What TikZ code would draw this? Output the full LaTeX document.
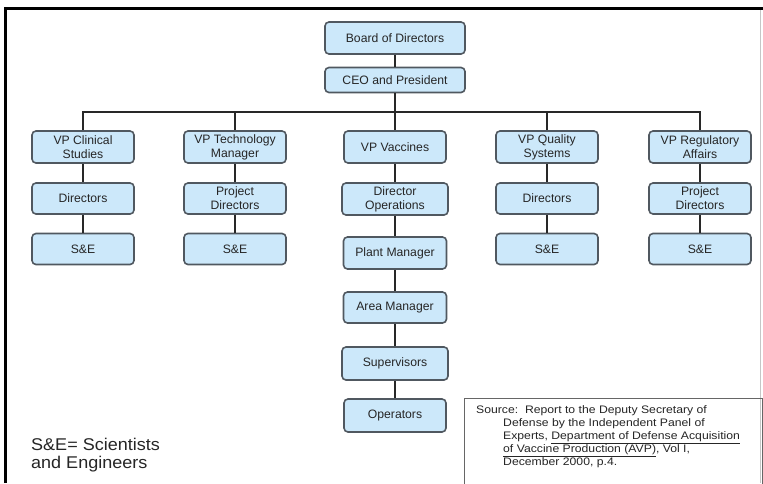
\documentclass[tikz,border=0pt]{standalone}
\usepackage{fontspec}
\setmainfont{Liberation Sans}
\newfontfamily\srcfont[FakeStretch=1.12]{Liberation Sans}
\newfontfamily\legfont[FakeStretch=1.06]{Liberation Sans}
\definecolor{boxfill}{RGB}{204,232,250}
\definecolor{boxline}{RGB}{80,88,96}
\definecolor{linec}{RGB}{40,40,40}
\begin{document}
\begin{tikzpicture}[x=1pt,y=-1pt,
  box/.style={draw=boxline, line width=1.6pt, fill=boxfill, rounded corners=4pt,
    minimum width=102pt, minimum height=32pt, inner sep=1pt, align=center,
    font=\fontsize{12.2}{13.8}\selectfont, text=black!85},
  conn/.style={draw=linec, line width=2pt, line join=miter}]
\useasboundingbox (0,0) rectangle (763,483);
\fill[white] (0,0) rectangle (763,483);
% frame
\draw[line width=3pt] (5,483) -- (5,8.5) -- (763,8.5);
\draw[gray!45, line width=0.8pt] (760,10) -- (760,483);

% top
\node[box, minimum width=140pt] (board) at (395,38) {Board of Directors};
\node[box, minimum width=140pt, minimum height=25pt] (ceo) at (395,80) {CEO and President};

% VP row
\node[box] (vp1) at (83,147) {VP Clinical\\Studies};
\node[box] (vp2) at (235,147) {VP Technology\\Manager};
\node[box] (vp3) at (395,147) {VP Vaccines};
\node[box] (vp4) at (547,147) {VP Quality\\Systems};
\node[box] (vp5) at (700,147) {VP Regulatory\\Affairs};

% directors row
\node[box, minimum height=31pt] (d1) at (83,198.5) {Directors};
\node[box, minimum height=31pt] (d2) at (235,198.5) {Project\\Directors};
\node[box, minimum width=106pt] (d3) at (395,199) {Director\\Operations};
\node[box, minimum height=31pt] (d4) at (547,198.5) {Directors};
\node[box, minimum height=31pt] (d5) at (700,198.5) {Project\\Directors};

% S&E row
\node[box, minimum height=31pt] (s1) at (83,249) {S\&E};
\node[box, minimum height=31pt] (s2) at (235,249) {S\&E};
\node[box, minimum height=31pt] (s4) at (547,249) {S\&E};
\node[box, minimum height=31pt] (s5) at (700,249) {S\&E};

% vaccine column
\node[box, minimum width=103pt] (plant) at (395,253) {Plant Manager};
\node[box, minimum width=103pt, minimum height=31pt] (area) at (395,307.5) {Area Manager};
\node[box, minimum width=106pt, minimum height=33pt] (sup) at (395,363.5) {Supervisors};
\node[box, minimum width=102pt, minimum height=33pt] (ops) at (395,415.5) {Operators};

% connectors
\coordinate (bus) at (395,112);
\draw[conn] (board) -- (ceo);
\draw[conn] (ceo) -- (vp3);
\draw[conn] (vp1.north) |- (vp5.north |- bus) -- (vp5.north);
\draw[conn] (vp2.north) -- (vp2.north |- bus);
\draw[conn] (vp4.north) -- (vp4.north |- bus);
\foreach \a/\b in {vp1/d1,d1/s1,vp2/d2,d2/s2,vp3/d3,d3/plant,plant/area,area/sup,sup/ops,vp4/d4,d4/s4,vp5/d5,d5/s5}
  \draw[conn] (\a) -- (\b);

% legend
\node[anchor=north west, inner sep=0pt, align=left, text=black!85,
  font=\legfont\fontsize{17}{18}\selectfont] (legend) at (31,438)
  {S\&E= Scientists\\and Engineers};

% source box
\node[draw=black!60, line width=1pt, anchor=north west, minimum width=298pt,
  minimum height=100pt, inner sep=0pt] (srcbox) at (464,398) {};
\node[anchor=north west, inner sep=0pt, align=left, text=black!85,
  font=\srcfont\fontsize{10.9}{13}\selectfont] (srctext) at (476,405)
  {Source:\ \ Report to the Deputy Secretary of\\
   \hspace*{27pt}Defense by the Independent Panel of\\
   \hspace*{27pt}Experts, \underline{Department of Defense Acquisition}\\
   \hspace*{27pt}\underline{of Vaccine Production (AVP)}, Vol I,\\
   \hspace*{27pt}December 2000, p.4.};
\end{tikzpicture}
\end{document}
